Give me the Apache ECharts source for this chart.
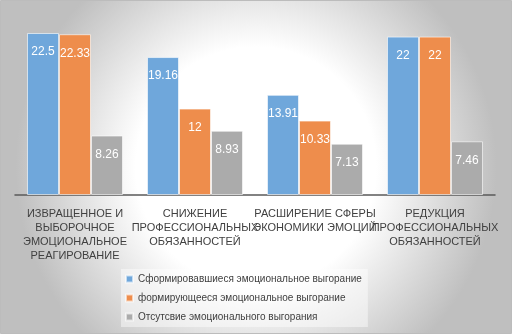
<!DOCTYPE html>
<html>
<head>
<meta charset="utf-8">
<script src="https://cdn.jsdelivr.net/npm/echarts@6/dist/echarts.min.js"></script>
<style>
  html, body { margin: 0; padding: 0; }
  #chart { width: 512px; height: 334px; }
</style>
</head>
<body>
<div id="chart"></div>
<script>
// categories and values
var categories = [
    'ИЗВРАЩЕННОЕ И\nВЫБОРОЧНОЕ\nЭМОЦИОНАЛЬНОЕ\nРЕАГИРОВАНИЕ',
    'СНИЖЕНИЕ\nПРОФЕССИОНАЛЬНЫХ\nОБЯЗАННОСТЕЙ',
    'РАСШИРЕНИЕ СФЕРЫ\nЭКОНОМИКИ ЭМОЦИЙ',
    'РЕДУКЦИЯ\nПРОФЕССИОНАЛЬНЫХ\nОБЯЗАННОСТЕЙ'
];
var seriesNames = [
    'Сформировавшиеся эмоциональное выгорание',
    'формирующееся эмоциональное выгорание',
    'Отсутсвие эмоционального выгорания'
];
var formed = [22.5, 19.16, 13.91, 22];
var forming = [22.33, 12, 10.33, 22];
var absent = [8.26, 8.93, 7.13, 7.46];

var colors = ['#6fa7db', '#ee8d4c', '#ababab'];
var font = 'Liberation Sans';

var myChart = echarts.init(document.getElementById('chart'));

function barSeries(name, data, color){
    return {
        name: name,
        type: 'bar',
        data: data,
        barGap: '0%',
        barCategoryGap: '20%',
        itemStyle: { color: color, borderColor: 'rgba(255,255,255,0.6)', borderWidth: 1 },
        label: {
            show: true,
            position: 'insideTop',
            distance: 13,
            color: '#ffffff',
            fontFamily: font,
            fontSize: 12
        }
    };
}

var option = {
    animation: false,
    graphic: [{
        type: 'rect',
        z: -100,
        silent: true,
        shape: { x: 0.5, y: 0.5, width: 511, height: 333 },
        style: {
            fill: {
                type: 'radial', x: 0.5, y: 0.5, r: 0.72,
                colorStops: [
                    { offset: 0, color: '#ffffff' },
                    { offset: 0.5, color: '#ffffff' },
                    { offset: 1, color: '#bfbfbf' }
                ]
            },
            stroke: '#bcbcbc',
            lineWidth: 1
        }
    }],
    grid: { left: 15, right: 17, top: 15, bottom: 139 },
    legend: {
        orient: 'vertical',
        left: 121,
        top: 269,
        itemWidth: 7,
        itemHeight: 7,
        itemGap: 9,
        icon: 'rect',
        padding: [5, 6, 5, 4],
        backgroundColor: 'rgba(255,255,255,0.45)',
        textStyle: { color: '#404040', fontFamily: font, fontSize: 10 },
        data: seriesNames
    },
    xAxis: {
        type: 'category',
        data: categories,
        axisTick: { show: false },
        axisLine: { lineStyle: { color: '#595959', width: 1.5 } },
        axisLabel: {
            interval: 0,
            color: '#404040',
            fontFamily: font,
            fontSize: 11,
            lineHeight: 14,
            margin: 12
        }
    },
    yAxis: {
        type: 'value',
        min: 0,
        max: 25,
        show: false,
        splitLine: { show: false }
    },
    series: [
        barSeries(seriesNames[0], formed, colors[0]),
        barSeries(seriesNames[1], forming, colors[1]),
        barSeries(seriesNames[2], absent, colors[2])
    ]
};
myChart.setOption(option);
</script>
</body>
</html>
